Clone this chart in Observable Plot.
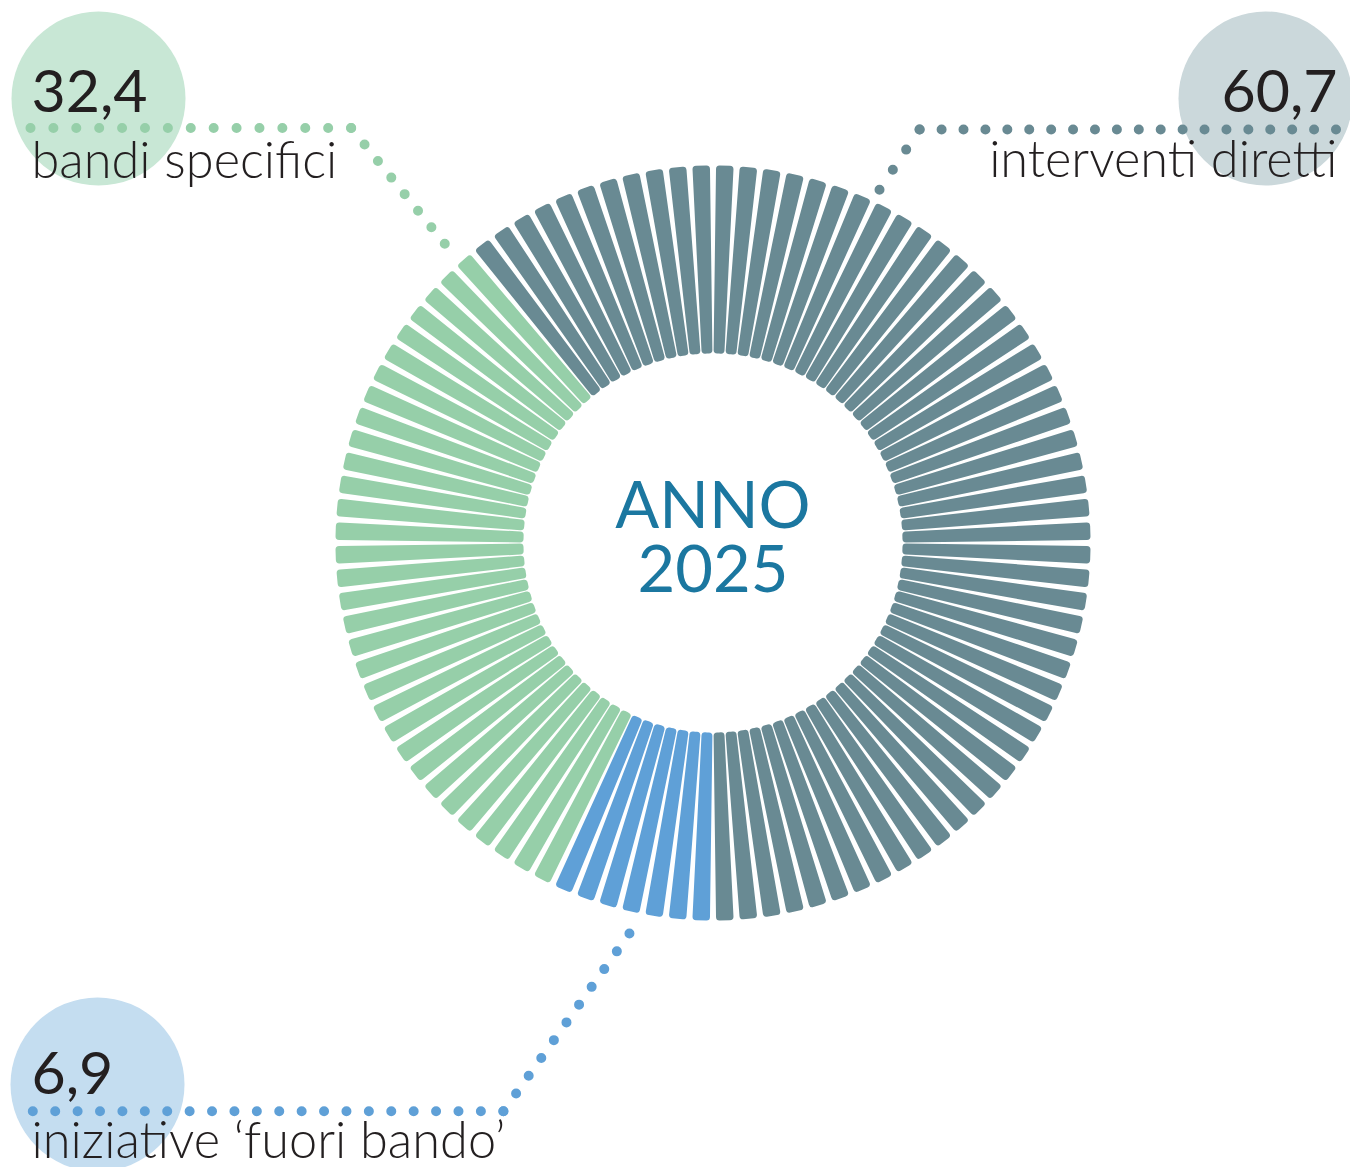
<!DOCTYPE html>
<html>
<head>
<meta charset="utf-8">
<script src="https://cdn.jsdelivr.net/npm/d3@7"></script>
<script src="https://cdn.jsdelivr.net/npm/@observablehq/plot@0.6"></script>
<style>
  html, body { margin: 0; padding: 0; background: #fff; overflow: hidden; }
  #chart svg { display: block; }
</style>
</head>
<body>
<div id="chart"></div>
<script>
// ---- data ----
const categories = ["interventi diretti", "iniziative ‘fuori bando’", "bandi specifici"];
const values = [60.7, 6.9, 32.4];
const valueLabels = ["60,7", "6,9", "32,4"];
const centerLines = ["ANNO", "2025"];

// ---- styles ----
const colors = ["#698a93", "#5fa0d7", "#96cfa9"];
const bubbleColors = ["#cbd8db", "#c4ddf0", "#c8e7d5"];
const textColor = "#231f20";
const centerColor = "#1b77a0";
const FONT = "Lato, 'Noto Sans', sans-serif";

// ---- layout ----
const W = 1350, H = 1167;
const CX = 712.5, CY = 542.5, R_IN = 189.5, R_OUT = 377.5;
const START = -39.6; // angle (deg, clockwise from 12 o'clock) where the first series begins
const layout = [
  { // interventi diretti
    bubble: [1265, 98], anchor: "end", num: [1337, 111], lab: [1337, 176],
    leader: [[1335.5, 129], [919, 129], [879, 189.3]], dots: [19, 3]
  },
  { // iniziative fuori bando
    bubble: [97, 1084], anchor: "start", num: [31, 1093], lab: [31, 1157],
    leader: [[32.3, 1110.7], [503, 1110.7], [629, 933]], dots: [21, 10]
  },
  { // bandi specifici
    bubble: [98, 98], anchor: "start", num: [31, 111], lab: [31, 177],
    leader: [[30, 127.5], [350.7, 127.5], [444.3, 243.3]], dots: [14, 7]
  }
];

// ---- bars: one bar per percentage unit ----
const counts = values.map(v => Math.round(v));
const total = d3.sum(counts);
const bars = [];
let k = 0;
categories.forEach((c, ci) => {
  for (let j = 0; j < counts[ci]; j++) {
    const a = START + (k + 0.5) * 360 / total;
    const rad = a * Math.PI / 180;
    bars.push({category: c, angle: a, x: CX + R_IN * Math.sin(rad), y: CY - R_IN * Math.cos(rad)});
    k++;
  }
});

// tapered rounded bar shape
const taper = {
  draw(ctx, l) {
    const wi = 5.4, wo = 8.8, rc = 3.6;
    ctx.moveTo(0, 0);
    ctx.arcTo(-wi, 0, -wo, -l, rc);
    ctx.arcTo(-wo, -l, wo, -l, rc);
    ctx.arcTo(wo, -l, wi, 0, rc);
    ctx.arcTo(wi, 0, -wi, 0, rc);
    ctx.closePath();
  }
};

const items = categories.map((c, i) => ({category: c, label: valueLabels[i], ...layout[i], i}));

// leader segments (dotted)
const leaderMarks = [];
items.forEach(it => {
  for (let s = 0; s < it.leader.length - 1; s++) {
    const [x1, y1] = it.leader[s], [x2, y2] = it.leader[s + 1];
    const len = Math.hypot(x2 - x1, y2 - y1);
    const step = len / it.dots[s] - 0.01;
    leaderMarks.push(Plot.link([{x1, y1, x2, y2, category: it.category}], {
      x1: "x1", y1: "y1", x2: "x2", y2: "y2", stroke: "category",
      strokeWidth: 10, strokeLinecap: "round", strokeDasharray: `0 ${step}`
    }));
  }
});

const textMarks = ["start", "end"].flatMap(anchor => {
  const sub = items.filter(d => d.anchor === anchor);
  return [
    Plot.text(sub, {x: d => d.num[0], y: d => d.num[1], text: "label", textAnchor: anchor,
      lineAnchor: "bottom", fontSize: 59, fontFamily: FONT, fontWeight: 400, fill: textColor}),
    Plot.text(sub, {x: d => d.lab[0], y: d => d.lab[1], text: "category", textAnchor: anchor,
      lineAnchor: "bottom", fontSize: 50.5, fontFamily: FONT, fontWeight: 300, fill: textColor})
  ];
});

const chart = Plot.plot({
  width: W, height: H,
  margin: 0,
  x: {domain: [0, W], range: [0, W], axis: null},
  y: {domain: [0, H], range: [0, H], axis: null},
  color: {domain: categories, range: colors},
  style: {background: "white"},
  marks: [
    Plot.dot(items, {x: d => d.bubble[0], y: d => d.bubble[1], r: 87, fill: (d) => bubbleColors[d.i], stroke: null}),
    Plot.vector(bars, {
      x: "x", y: "y", rotate: "angle", length: R_OUT - R_IN, anchor: "start",
      shape: taper, fill: "category", stroke: "none"
    }),
    ...leaderMarks,
    ...textMarks,
    Plot.text([centerLines.join("\n")], {x: () => CX, y: () => 591, text: d => d,
      textAnchor: "middle", lineAnchor: "bottom", lineHeight: 64 / 65,
      fontSize: 65, fontFamily: FONT, fontWeight: 400, fill: centerColor})
  ]
});
document.getElementById("chart").appendChild(chart);
</script>
</body>
</html>
